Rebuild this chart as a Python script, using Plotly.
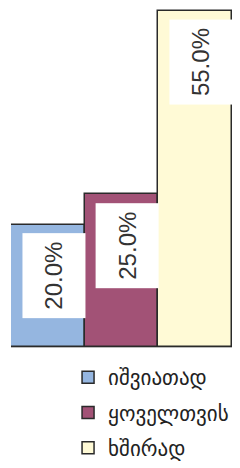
import plotly.graph_objects as go

categories = ["იშვიათად", "ყოველთვის", "ხშირად"]
values = [20.0, 25.0, 55.0]
labels = ["20.0%", "25.0%", "55.0%"]
colors = ["#95B6E0", "#A25276", "#FFFAD6"]

fig = go.Figure()
for c, v, col in zip(categories, values, colors):
    fig.add_trace(go.Bar(
        x=[c], y=[v], name=c, marker_color=col,
        marker_line_color="#2a2a2a", marker_line_width=1.5,
        legendgroup=c, width=1,
    ))

for c, v, t in zip(categories, values, labels):
    fig.add_annotation(
        x=c, y=v, text=t, textangle=-90, showarrow=False,
        yanchor="top", yshift=-8, xshift=6,
        width=70, height=48, borderpad=7,
        bgcolor="white",
        font=dict(family="Liberation Sans, Arial", size=24, color="#333333"),
    )

fig.update_layout(
    width=232, height=460,
    margin=dict(l=3, r=7, t=0, b=120),
    paper_bgcolor="white", plot_bgcolor="white",
    bargap=0, barmode="overlay",
    showlegend=True,
    legend=dict(
        x=0.257, y=-0.03, xanchor="left", yanchor="top",
        font=dict(family="DejaVu Sans", size=21, color="#222222"),
        tracegroupgap=5, bgcolor="rgba(0,0,0,0)",
    ),
    xaxis=dict(showticklabels=False, showgrid=False, zeroline=False,
               showline=False, ticks=""),
    yaxis=dict(range=[0, 55.5], showticklabels=False, showgrid=False,
               zeroline=True, zerolinecolor="#bbbbbb", zerolinewidth=2,
               showline=False, ticks=""),
)

fig.write_html("out.html")
